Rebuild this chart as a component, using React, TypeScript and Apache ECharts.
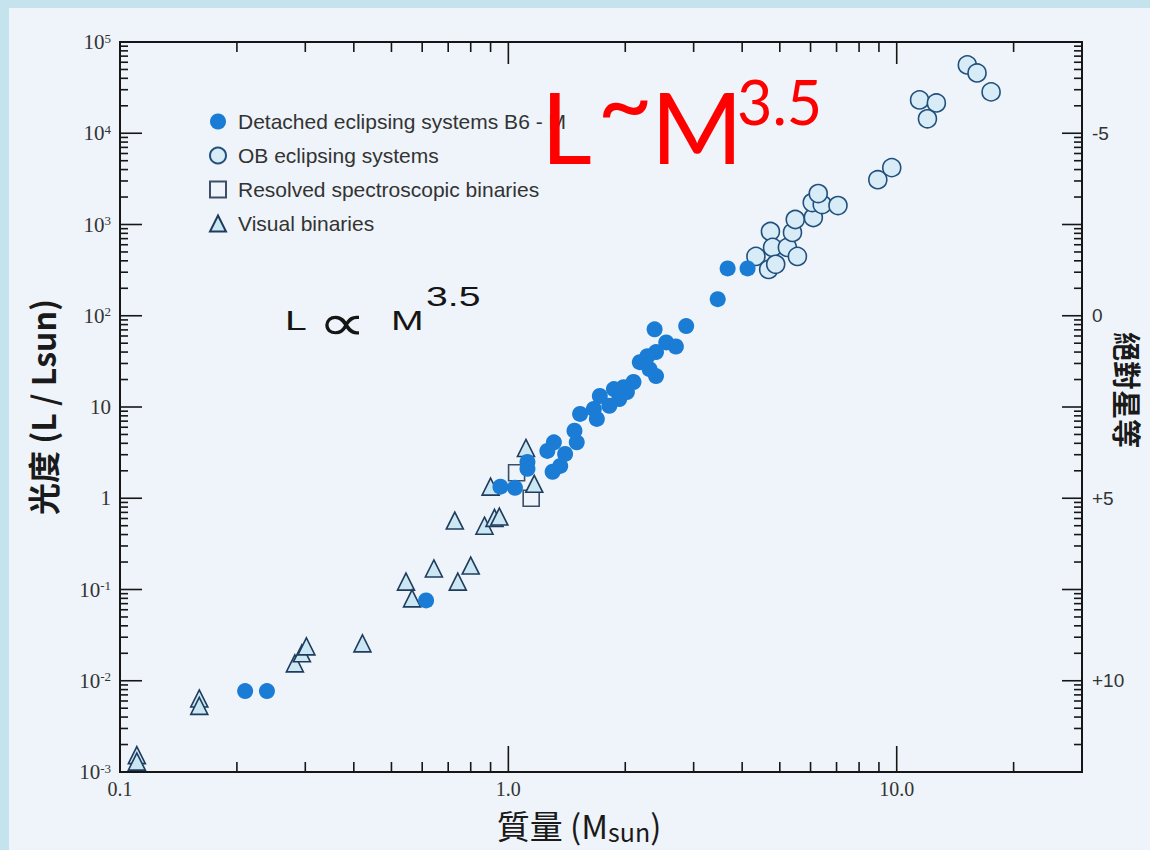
import React, { useEffect, useRef } from 'react';
import * as echarts from 'echarts';

// ---------- data (mass in Msun, luminosity in Lsun) ----------
const seriesNames = [
  'Detached eclipsing systems B6 - M',
  'OB eclipsing systems',
  'Resolved spectroscopic binaries',
  'Visual binaries',
];

const detachedMass = [0.21, 0.239, 0.614, 0.954, 1.04, 1.12, 1.12, 1.26, 1.31, 1.3, 1.36, 1.4, 1.5, 1.48, 1.53, 1.69, 1.72, 1.82, 1.87, 1.93, 2.02, 2.1, 2.18, 2.31, 2.4, 2.4, 2.55, 2.7, 2.38, 2.87, 3.46, 3.67, 4.13, 1.66, 1.98, 2.28];
const detachedLum = [0.0077, 0.0077, 0.076, 1.34, 1.3, 2.5, 2.1, 3.3, 4.1, 1.95, 2.26, 3.06, 4.1, 5.5, 8.4, 7.4, 13.2, 10.3, 15.7, 12.2, 14.6, 18.8, 31, 26, 21.8, 40, 51, 46, 71, 77, 152, 330, 330, 9.5, 16.5, 36];

const obMass = [4.34, 4.73, 4.79, 5.23, 4.68, 4.88, 5.55, 5.39, 5.48, 6.1, 6.06, 6.43, 6.28, 7.06, 8.94, 9.71, 11.45, 12.65, 12.0, 15.2, 16.1, 17.5];
const obLum = [447, 838, 561, 561, 322, 366, 447, 818, 1135, 1193, 1740, 1655, 2183, 1614, 3100, 4200, 23200, 21500, 14400, 56100, 45800, 28400];

const specMass = [1.05, 1.145];
const specLum = [1.9, 1.0];

const visualMass = [0.1105, 0.1105, 0.16, 0.16, 0.282, 0.294, 0.302, 0.421, 0.545, 0.565, 0.643, 0.741, 0.8, 0.728, 0.868, 0.921, 0.948, 0.9, 1.11, 1.166];
const visualLum = [0.00153, 0.0013, 0.0064, 0.0053, 0.0155, 0.02, 0.0238, 0.0257, 0.122, 0.08, 0.17, 0.122, 0.183, 0.57, 0.5, 0.61, 0.63, 1.34, 3.56, 1.44];

// ---------- axes / ticks ----------
const xRange = [0.1, 30];
const yRange = [0.001, 100000];
const xTickValues = [0.1, 1, 10];
const xTickLabels = ['0.1', '1.0', '10.0'];
const yTickExponents = [-3, -2, -1, 0, 1, 2, 3, 4, 5];
const rightTickValues = [10000, 100, 1, 0.01];
const rightTickLabels = ['-5', '0', '+5', '+10'];
const xMajorTicks = [1, 10];
const xMinorTicks = [0.2, 0.3, 0.4, 0.5, 0.6, 0.7, 0.8, 0.9, 2, 3, 4, 5, 6, 7, 8, 9, 20];
const yMajorTicks = [0.01, 0.1, 1, 10, 100, 1000, 10000];
const yDecades = [0.001, 0.01, 0.1, 1, 10, 100, 1000, 10000];
const minorMantissas = [2, 3, 4, 5, 6, 7, 8, 9];

const near = (a: number, b: number) => Math.abs(Math.log10(a) - Math.log10(b)) < 1e-6;
const zip = (xs: number[], ys: number[]) => xs.map((x, i) => [x, ys[i]]);

export default function App() {
  const ref = useRef<HTMLDivElement>(null);

  useEffect(() => {
    if (!ref.current) return;
    const chart = echarts.init(ref.current, undefined, { renderer: 'svg' });
    const yMinorTicks: number[] = [];
    yDecades.forEach((d) => minorMantissas.forEach((m) => yMinorTicks.push(d * m)));

    const axisColor = '#161616';
    const option: any = {
      animation: false,
      backgroundColor: 'transparent',
      grid: {
        left: 120, top: 42, right: 68, bottom: 78,
        show: true, borderColor: axisColor, borderWidth: 2, backgroundColor: 'transparent',
      },
      legend: {
        orient: 'vertical', left: 204, top: 106, itemWidth: 16, itemHeight: 16, itemGap: 13,
        selectedMode: false,
        data: seriesNames,
        textStyle: { fontFamily: 'Liberation Sans', fontSize: 21, color: '#333', padding: [0, 0, 0, 7] },
      },
      xAxis: {
        type: 'log', logBase: 10, min: xRange[0], max: xRange[1], interval: 1,
        axisLine: { show: false }, axisTick: { show: false }, splitLine: { show: false },
        axisLabel: {
          fontFamily: 'Liberation Serif', fontSize: 20, color: '#333', margin: 7,
          formatter: (v: number) => {
            const i = xTickValues.findIndex((t) => near(t, v));
            return i >= 0 ? xTickLabels[i] : '';
          },
        },
      },
      yAxis: [
        {
          type: 'log', logBase: 10, min: yRange[0], max: yRange[1], interval: 1, position: 'left',
          axisLine: { show: false }, axisTick: { show: false }, splitLine: { show: false },
          axisLabel: {
            margin: 9,
            formatter: (v: number) => {
              const e = yTickExponents.find((k) => near(Math.pow(10, k), v));
              if (e === undefined) return '';
              if (e === 0) return '{b|1}';
              if (e === 1) return '{b|10}';
              return '{b|10}{s|' + e + '}';
            },
            rich: {
              b: { fontFamily: 'Liberation Serif', fontSize: 21, color: '#333' },
              s: { fontFamily: 'Liberation Serif', fontSize: 13, color: '#333', verticalAlign: 'top', padding: [0, 0, 6, 0] },
            },
          },
        },
        {
          type: 'log', logBase: 10, min: yRange[0], max: yRange[1], interval: 1, position: 'right',
          axisLine: { show: false }, axisTick: { show: false }, splitLine: { show: false },
          axisLabel: {
            margin: 10, fontFamily: 'Liberation Sans', fontSize: 19, color: '#333',
            formatter: (v: number) => {
              const i = rightTickValues.findIndex((t) => near(t, v));
              return i >= 0 ? rightTickLabels[i] : '';
            },
          },
        },
      ],
      series: [
        {
          name: seriesNames[0], type: 'scatter', symbol: 'circle', symbolSize: 16,
          itemStyle: { color: '#1a7cd5', opacity: 1 },
          data: zip(detachedMass, detachedLum), z: 4,
        },
        {
          name: seriesNames[1], type: 'scatter', symbol: 'circle', symbolSize: 18,
          itemStyle: { color: '#d8ecf8', borderColor: '#22507c', borderWidth: 1.6, opacity: 1 },
          data: zip(obMass, obLum), z: 3,
        },
        {
          name: seriesNames[2], type: 'scatter', symbol: 'rect', symbolSize: 16,
          itemStyle: { color: 'rgba(238,244,250,0.6)', borderColor: '#3c4f66', borderWidth: 1.6, opacity: 1 },
          data: zip(specMass, specLum), z: 3,
        },
        {
          name: seriesNames[3], type: 'scatter', symbol: 'triangle', symbolSize: 17,
          itemStyle: { color: '#cbe7f4', borderColor: '#1f3c5c', borderWidth: 1.6, opacity: 1 },
          data: zip(visualMass, visualLum), z: 3,
        },
        {
          name: 'ticks', type: 'custom', silent: true, xAxisIndex: 0, yAxisIndex: 0,
          data: [[1, 1]], z: 5,
          renderItem: (params: any, api: any) => {
            const cs = params.coordSys;
            const L = cs.x, R = cs.x + cs.width, T = cs.y, B = cs.y + cs.height;
            const style = { stroke: axisColor, lineWidth: 1.6 };
            const kids: any[] = [];
            const add = (x1: number, y1: number, x2: number, y2: number) =>
              kids.push({ type: 'line', shape: { x1, y1, x2, y2 }, style });
            xMajorTicks.forEach((v) => {
              const px = api.coord([v, 1])[0];
              add(px, B, px, B - 26);
              add(px, T, px, T + 22);
            });
            xMinorTicks.forEach((v) => {
              const px = api.coord([v, 1])[0];
              add(px, B, px, B - 10);
              add(px, T, px, T + 10);
            });
            yMajorTicks.forEach((v) => {
              const py = api.coord([1, v])[1];
              add(L, py, L + 22, py);
              add(R, py, R - 20, py);
            });
            yMinorTicks.forEach((v) => {
              const py = api.coord([1, v])[1];
              add(L, py, L + 8, py);
              add(R, py, R - 8, py);
            });
            return { type: 'group', children: kids };
          },
        },
      ],
      graphic: [
        // red annotation L ~M^3.5
        { type: 'text', x: 541, y: 125, z: 100, style: { text: 'L', font: 'normal 99px Lato', fill: '#ff0000', textAlign: 'left', textVerticalAlign: 'middle' } },
        { type: 'text', x: 625, y: 100, z: 100, style: { text: '~', font: 'normal 96px Lato', fill: '#ff0000', textAlign: 'center', textVerticalAlign: 'middle' } },
        { type: 'text', x: 651, y: 125, z: 100, style: { text: 'M', font: 'normal 99px Lato', fill: '#ff0000', textAlign: 'left', textVerticalAlign: 'middle' } },
        { type: 'text', x: 737, y: 101, z: 100, style: { text: '3.5', font: 'normal 61px Lato', fill: '#ff0000', textAlign: 'left', textVerticalAlign: 'middle' } },
        // black L ∝ M^3.5
        { type: 'text', x: 285, y: 321, scaleX: 1.45, z: 100, style: { text: 'L', font: 'normal 27px "Liberation Sans"', fill: '#151515', textAlign: 'left', textVerticalAlign: 'middle' } },
        { type: 'text', x: 318, y: 323, scaleX: 1.35, z: 100, style: { text: '∝', font: 'normal 50px "DejaVu Sans"', fill: '#151515', textAlign: 'left', textVerticalAlign: 'middle' } },
        { type: 'text', x: 391, y: 321, scaleX: 1.45, z: 100, style: { text: 'M', font: 'normal 27px "Liberation Sans"', fill: '#151515', textAlign: 'left', textVerticalAlign: 'middle' } },
        { type: 'text', x: 426, y: 297, scaleX: 1.45, z: 100, style: { text: '3.5', font: 'normal 27px "Liberation Sans"', fill: '#151515', textAlign: 'left', textVerticalAlign: 'middle' } },
        // axis titles
        {
          type: 'text', x: 579, y: 824, z: 100,
          style: {
            text: '{a|質量 (M}{b|sun}{a|)}', textAlign: 'center', textVerticalAlign: 'middle',
            rich: {
              a: { fontFamily: '"Noto Sans CJK TC"', fontSize: 33, lineHeight: 34, fill: '#1a1a1a', verticalAlign: 'bottom' },
              b: { fontFamily: '"Noto Sans CJK TC"', fontSize: 25, lineHeight: 26, fill: '#1a1a1a', verticalAlign: 'bottom', padding: [0, 0, -2, 0] },
            },
          },
        },
        {
          type: 'text', x: 42, y: 407, rotation: Math.PI / 2, z: 100,
          style: { text: '光度 (L / Lsun)', font: 'bold 32px "Noto Sans CJK TC"', fill: '#1a1a1a', textAlign: 'center', textVerticalAlign: 'middle' },
        },
        {
          type: 'text', x: 1128, y: 390, rotation: -Math.PI / 2, z: 100,
          style: { text: '絕對星等', font: 'bold 29px "Noto Sans CJK TC"', fill: '#1a1a1a', textAlign: 'center', textVerticalAlign: 'middle' },
        },
      ],
    };
    chart.setOption(option);
    return () => chart.dispose();
  }, []);

  return (
    <div style={{ position: 'absolute', left: 0, top: 0, width: 1150, height: 850, background: '#c4e3ec', overflow: 'hidden' }}>
      <div style={{ position: 'absolute', left: 9, top: 8, right: 0, bottom: 0, background: '#eef4f9' }} />
      <div ref={ref} style={{ position: 'absolute', left: 0, top: 0, width: 1150, height: 850 }} />
    </div>
  );
}
